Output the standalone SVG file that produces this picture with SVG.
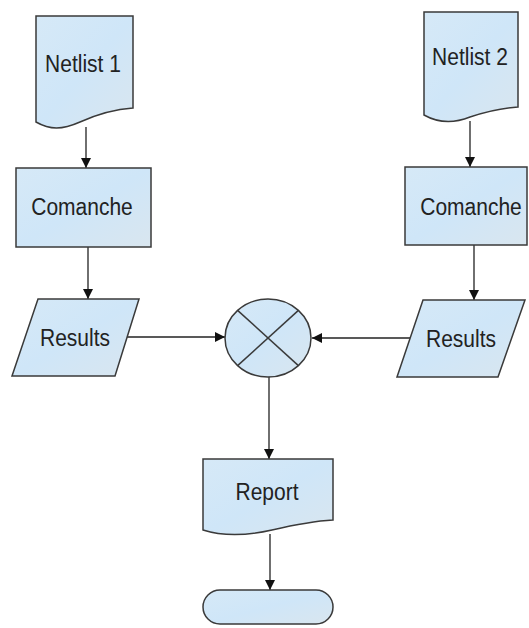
<svg xmlns="http://www.w3.org/2000/svg" width="529" height="628" viewBox="0 0 529 628">
<style>
.shape{fill:url(#fillGrad);stroke:#3a3a3a;stroke-width:1.5}
.lbl{font-family:"Liberation Sans",Arial,sans-serif;font-size:21px;fill:#222;text-anchor:middle}
.conn{stroke:#222;stroke-width:1.3;fill:none;marker-end:url(#arrow)}
</style>
<defs>
<linearGradient id="fillGrad" x1="0" y1="0" x2="1" y2="1">
<stop offset="0" stop-color="#d6e9f7"/>
<stop offset="0.5" stop-color="#cfe6f8"/>
<stop offset="1" stop-color="#d9e6ef"/>
</linearGradient>
<marker id="arrow" viewBox="0 0 10 10" refX="10" refY="5" markerWidth="10" markerHeight="10" markerUnits="userSpaceOnUse" orient="auto">
<path d="M0,0 L10,5 L0,10 Z" fill="#111"/>
</marker>
</defs>
<rect width="529" height="628" fill="#fff"/>
<g id="connectors">
<line class="conn" x1="86" y1="127" x2="86" y2="168"/>
<line class="conn" x1="470" y1="121" x2="470" y2="167"/>
<line class="conn" x1="88" y1="247" x2="88" y2="299"/>
<line class="conn" x1="474" y1="245" x2="474" y2="300"/>
<line class="conn" x1="127" y1="337" x2="225" y2="337"/>
<line class="conn" x1="410" y1="338" x2="312" y2="338"/>
<line class="conn" x1="269" y1="376" x2="269" y2="459"/>
<line class="conn" x1="270" y1="534" x2="270" y2="590"/>
</g>
<g id="netlist1">
<path class="shape" d="M36,16 H133 V108 C118,109 100,113 80,122 C62,130 50,130 36,122 Z"/>
<text class="lbl" transform="translate(83,72) scale(1,1.13)">Netlist 1</text>
</g>
<g id="netlist2">
<path class="shape" d="M424,12 H518 V107 C503,108 488,111 470,117 C455,123 440,124 424,115 Z"/>
<text class="lbl" transform="translate(470,65) scale(1,1.13)">Netlist 2</text>
</g>
<g id="comanche1">
<rect class="shape" x="16" y="168" width="135" height="79"/>
<text class="lbl" transform="translate(82,215) scale(1,1.13)">Comanche</text>
</g>
<g id="comanche2">
<rect class="shape" x="405" y="167" width="122" height="78"/>
<text class="lbl" transform="translate(471,215) scale(1,1.13)">Comanche</text>
</g>
<g id="results1">
<path class="shape" d="M38,299 H139 L115,376 H12 Z"/>
<text class="lbl" transform="translate(75,346) scale(1,1.13)">Results</text>
</g>
<g id="results2">
<path class="shape" d="M423,300 H525 L498,377 H397 Z"/>
<text class="lbl" transform="translate(461,347) scale(1,1.13)">Results</text>
</g>
<g id="merge">
<ellipse class="shape" cx="268" cy="338" rx="43" ry="39"/>
<line x1="237.6" y1="310.4" x2="298.4" y2="365.6" stroke="#3a3a3a" stroke-width="1.5"/>
<line x1="298.4" y1="310.4" x2="237.6" y2="365.6" stroke="#3a3a3a" stroke-width="1.5"/>
</g>
<g id="report">
<path class="shape" d="M203,459 H333 V520 C315,521 298,524 272,530 C250,535 225,537 203,530 Z"/>
<text class="lbl" transform="translate(267,500) scale(1,1.13)">Report</text>
</g>
<g id="terminal">
<rect class="shape" x="203" y="590" width="130" height="34" rx="17" ry="17"/>
</g>
</svg>
